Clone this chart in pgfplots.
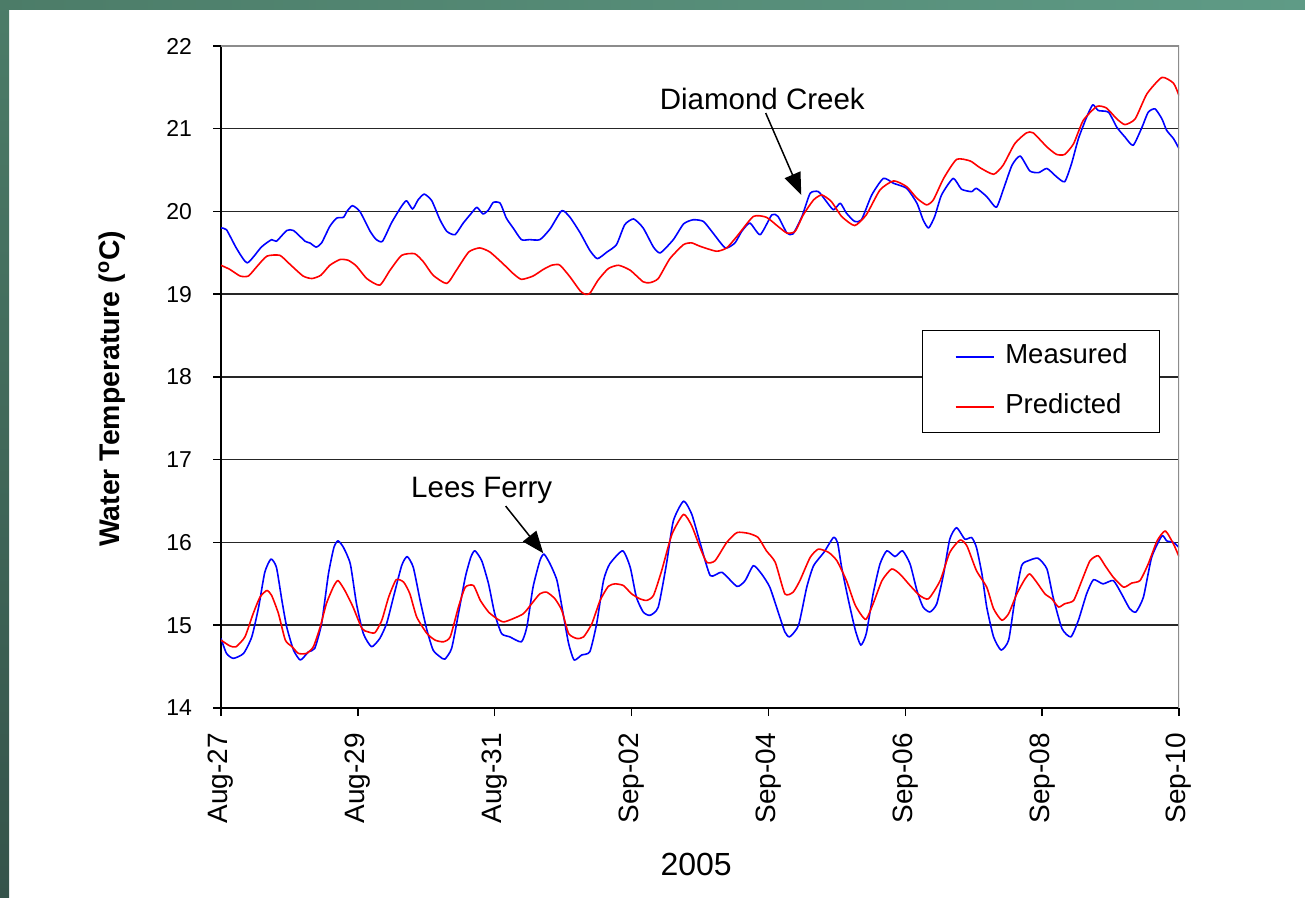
\documentclass[border=0pt]{standalone}
\usepackage{fontspec}
\setmainfont{Liberation Sans}
\usepackage{pgfplots}
\pgfplotsset{compat=1.18}
\usetikzlibrary{arrows.meta}

\definecolor{bandL}{HTML}{4C7C68}
\definecolor{bandR}{HTML}{5F9B86}
\definecolor{bandB}{HTML}{35534A}

% Days counted from Aug-27 00:00, temperatures in deg C
\pgfplotstableread{
d T
0 19.80
0.08 19.78
0.23 19.55
0.385 19.38
0.59 19.57
0.74 19.66
0.81 19.64
0.96 19.77
1.06 19.77
1.23 19.64
1.30 19.62
1.39 19.57
1.47 19.62
1.59 19.82
1.69 19.92
1.79 19.93
1.84 20.00
1.92 20.07
2.03 20.00
2.18 19.76
2.27 19.66
2.36 19.64
2.49 19.86
2.62 20.04
2.71 20.13
2.80 20.03
2.88 20.14
2.97 20.21
3.08 20.13
3.20 19.90
3.30 19.76
3.42 19.72
3.54 19.86
3.66 19.98
3.74 20.05
3.83 19.97
3.91 20.02
3.98 20.11
4.08 20.10
4.17 19.92
4.27 19.80
4.39 19.66
4.51 19.66
4.66 19.66
4.81 19.79
4.98 20.01
5.10 19.93
5.25 19.74
5.39 19.53
5.50 19.43
5.64 19.51
5.78 19.60
5.90 19.84
6.03 19.91
6.17 19.80
6.32 19.57
6.42 19.50
6.61 19.66
6.76 19.85
6.90 19.90
7.05 19.88
7.19 19.74
7.37 19.56
7.51 19.62
7.61 19.76
7.73 19.86
7.88 19.72
8.05 19.96
8.14 19.94
8.27 19.74
8.36 19.73
8.49 19.94
8.61 20.22
8.73 20.24
8.83 20.14
8.95 20.02
9.05 20.10
9.14 19.98
9.26 19.88
9.36 19.90
9.51 20.20
9.68 20.40
9.83 20.34
10.02 20.28
10.17 20.10
10.26 19.90
10.34 19.80
10.43 19.94
10.53 20.20
10.70 20.40
10.82 20.27
10.97 20.24
11.04 20.28
11.19 20.18
11.33 20.05
11.43 20.26
11.56 20.56
11.68 20.67
11.82 20.49
11.95 20.47
12.07 20.52
12.21 20.42
12.33 20.36
12.43 20.58
12.53 20.88
12.65 21.14
12.74 21.29
12.82 21.22
12.97 21.20
13.09 21.02
13.21 20.90
13.33 20.80
13.46 21.02
13.55 21.20
13.65 21.24
13.75 21.12
13.82 20.98
13.92 20.88
14.00 20.76
}\dcmeas

\pgfplotstableread{
d T
0 19.35
0.13 19.30
0.28 19.22
0.40 19.22
0.52 19.33
0.67 19.46
0.86 19.47
1.01 19.36
1.20 19.22
1.33 19.19
1.46 19.23
1.59 19.35
1.74 19.42
1.86 19.41
1.98 19.34
2.13 19.19
2.32 19.11
2.47 19.29
2.64 19.47
2.83 19.49
2.96 19.39
3.10 19.23
3.30 19.13
3.44 19.29
3.62 19.51
3.78 19.56
3.93 19.51
4.12 19.37
4.27 19.25
4.39 19.18
4.56 19.22
4.71 19.30
4.83 19.35
4.93 19.36
4.98 19.33
5.10 19.21
5.25 19.04
5.32 19.00
5.39 19.01
5.51 19.17
5.66 19.31
5.81 19.35
5.98 19.29
6.17 19.15
6.27 19.14
6.39 19.19
6.56 19.43
6.76 19.60
6.88 19.62
7.00 19.58
7.24 19.52
7.39 19.56
7.54 19.70
7.78 19.94
7.97 19.93
8.14 19.82
8.27 19.74
8.39 19.76
8.51 19.96
8.66 20.14
8.78 20.20
8.92 20.12
9.07 19.94
9.26 19.83
9.43 19.96
9.63 20.26
9.83 20.37
10.02 20.30
10.17 20.16
10.31 20.08
10.41 20.14
10.56 20.40
10.75 20.63
10.95 20.61
11.09 20.53
11.29 20.45
11.43 20.56
11.60 20.82
11.77 20.95
11.87 20.95
12.07 20.78
12.21 20.69
12.33 20.69
12.46 20.82
12.60 21.10
12.80 21.27
12.94 21.25
13.09 21.12
13.21 21.05
13.36 21.12
13.53 21.42
13.75 21.62
13.92 21.55
14.00 21.40
}\dcpred

\pgfplotstableread{
d T
0 14.84
0.08 14.66
0.18 14.60
0.33 14.66
0.45 14.86
0.55 15.22
0.64 15.64
0.73 15.80
0.81 15.70
0.89 15.30
0.96 14.98
1.06 14.70
1.16 14.58
1.28 14.68
1.37 14.72
1.47 15.02
1.57 15.62
1.65 15.94
1.71 16.02
1.79 15.94
1.89 15.74
1.98 15.26
2.08 14.90
2.20 14.74
2.32 14.84
2.42 15.02
2.52 15.34
2.64 15.72
2.72 15.83
2.81 15.70
2.91 15.30
3.01 14.94
3.10 14.70
3.20 14.62
3.27 14.59
3.37 14.72
3.47 15.14
3.57 15.58
3.65 15.82
3.71 15.90
3.81 15.78
3.91 15.50
4.00 15.14
4.10 14.90
4.22 14.86
4.39 14.80
4.47 14.98
4.56 15.46
4.66 15.78
4.72 15.86
4.81 15.74
4.91 15.54
5.00 15.14
5.08 14.78
5.16 14.58
5.27 14.64
5.39 14.68
5.49 15.02
5.59 15.54
5.68 15.74
5.87 15.90
5.98 15.70
6.07 15.34
6.17 15.16
6.27 15.12
6.39 15.22
6.51 15.74
6.61 16.26
6.76 16.50
6.88 16.34
7.00 16.00
7.15 15.60
7.32 15.64
7.54 15.47
7.66 15.54
7.78 15.72
7.90 15.62
8.02 15.46
8.15 15.14
8.24 14.92
8.31 14.86
8.44 15.00
8.56 15.46
8.66 15.72
8.81 15.88
8.95 16.06
9.01 16.00
9.07 15.70
9.17 15.30
9.27 14.94
9.35 14.76
9.43 14.90
9.53 15.38
9.63 15.74
9.73 15.90
9.85 15.83
9.96 15.90
10.07 15.74
10.17 15.42
10.26 15.22
10.36 15.16
10.46 15.26
10.56 15.62
10.65 16.04
10.75 16.18
10.87 16.04
10.97 16.06
11.04 15.94
11.12 15.62
11.19 15.22
11.29 14.86
11.40 14.70
11.51 14.82
11.60 15.30
11.70 15.72
11.80 15.78
11.94 15.81
12.07 15.68
12.16 15.34
12.29 14.96
12.42 14.86
12.53 15.06
12.65 15.38
12.75 15.55
12.89 15.50
13.04 15.54
13.16 15.38
13.28 15.20
13.37 15.16
13.48 15.34
13.60 15.82
13.75 16.08
13.82 16.02
13.92 16.00
14.00 15.94
}\lfmeas

\pgfplotstableread{
d T
0 14.82
0.13 14.75
0.22 14.74
0.35 14.86
0.47 15.14
0.57 15.34
0.67 15.42
0.74 15.36
0.84 15.14
0.94 14.82
1.04 14.74
1.13 14.66
1.25 14.66
1.35 14.74
1.45 14.98
1.54 15.26
1.64 15.46
1.71 15.54
1.81 15.42
1.93 15.22
2.06 14.96
2.15 14.92
2.25 14.91
2.35 15.06
2.45 15.34
2.56 15.55
2.67 15.52
2.76 15.38
2.86 15.10
3.01 14.90
3.13 14.82
3.25 14.80
3.35 14.86
3.47 15.22
3.57 15.46
3.69 15.48
3.79 15.30
3.91 15.16
4.03 15.08
4.13 15.04
4.27 15.08
4.42 15.14
4.54 15.26
4.66 15.38
4.76 15.40
4.88 15.32
4.98 15.18
5.08 14.90
5.20 14.84
5.30 14.86
5.42 15.02
5.54 15.30
5.66 15.47
5.76 15.50
5.88 15.48
6.00 15.38
6.12 15.32
6.22 15.30
6.32 15.36
6.44 15.66
6.59 16.10
6.76 16.34
6.88 16.20
7.00 15.94
7.10 15.76
7.22 15.78
7.39 16.00
7.54 16.12
7.71 16.11
7.85 16.06
7.97 15.90
8.10 15.76
8.24 15.38
8.36 15.40
8.46 15.54
8.61 15.82
8.73 15.92
8.88 15.88
9.00 15.78
9.14 15.54
9.27 15.24
9.42 15.07
9.53 15.26
9.66 15.54
9.80 15.68
9.92 15.62
10.07 15.48
10.21 15.36
10.34 15.32
10.51 15.54
10.65 15.88
10.80 16.03
10.90 15.96
11.04 15.66
11.19 15.46
11.29 15.20
11.41 15.06
11.51 15.14
11.63 15.38
11.75 15.56
11.82 15.62
11.92 15.52
12.04 15.38
12.14 15.32
12.24 15.22
12.33 15.26
12.46 15.30
12.58 15.54
12.70 15.78
12.82 15.84
12.92 15.72
13.04 15.58
13.19 15.46
13.31 15.51
13.43 15.54
13.55 15.74
13.68 16.02
13.80 16.14
13.92 15.98
14.00 15.83
}\lfpred

\begin{document}
\begin{tikzpicture}
% slide background with green frame
\fill[white] (0bp,0bp) rectangle (652.5bp,449bp);
\shade[left color=bandL, right color=bandR] (0bp,444bp) rectangle (652.5bp,449bp);
\shade[bottom color=bandB, top color=bandL] (0bp,0bp) rectangle (4.5bp,449bp);
\useasboundingbox (0bp,0bp) rectangle (652.5bp,449bp);

\begin{axis}[
  at={(110.5bp,95bp)}, anchor=south west,
  scale only axis, width=479bp, height=331bp,
  xmin=0, xmax=14, ymin=14, ymax=22,
  axis x line*=bottom, axis y line*=left,
  axis line style={-, black, line width=0.75bp},
  xtick={0,2,...,14},
  xticklabels={Aug-27,Aug-29,Aug-31,Sep-02,Sep-04,Sep-06,Sep-08,Sep-10},
  ytick={14,15,...,22},
  tick align=outside, major tick length=4bp,
  tick style={black, line width=0.75bp},
  /pgf/number format/assume math mode=true,
  yticklabel style={font=\fontsize{11.5bp}{13bp}\selectfont, xshift=-7bp},
  xticklabel style={font=\fontsize{14bp}{16bp}\selectfont, rotate=90, anchor=east, xshift=-5bp},
  ymajorgrids, major grid style={black!85, line width=0.75bp},
  ylabel={\textbf{Water Temperature (\textsuperscript{o}C)}},
  ylabel style={at={(axis description cs:-0.1138,0.482)}, anchor=center,
    font=\fontsize{14.2bp}{17bp}\selectfont},
  xlabel={2005},
  xlabel style={at={(axis description cs:0.496,-0.236)}, anchor=center,
    font=\fontsize{16bp}{19bp}\selectfont},
  legend style={at={(axis description cs:0.7317,0.571)}, anchor=north west,
    draw=black, line width=0.75bp, fill=white,
    font=\fontsize{13.75bp}{16bp}\selectfont,
    inner xsep=16bp, inner ysep=6.5bp, row sep=12bp,
    nodes={inner sep=0pt, text height=10bp, text depth=3bp},
    /tikz/every odd column/.append style={column sep=5.5bp}},
  legend cell align=left,
  legend image code/.code={\draw[#1] (0bp,0bp) -- (19bp,0bp);},
  every axis plot/.append style={line width=0.8bp, line join=round},
]
\addplot[blue, smooth, tension=0.35] table[x=d, y=T] {\dcmeas};
\addlegendentry{Measured}
\addplot[red, smooth, tension=0.35] table[x=d, y=T] {\dcpred};
\addlegendentry{Predicted}
\addplot[blue, smooth, tension=0.35, forget plot] table[x=d, y=T] {\lfmeas};
\addplot[red, smooth, tension=0.35, forget plot] table[x=d, y=T] {\lfpred};

% plot area frame on the top and right
\draw[black!45, line width=0.75bp] (rel axis cs:0,1) -- (rel axis cs:1,1) -- (rel axis cs:1,0);

% site annotations
\node[font=\fontsize{14.75bp}{17bp}\selectfont] at (axis cs:7.91,21.36) {Diamond Creek};
\draw[-{Triangle[length=11bp,width=8.5bp]}, line width=0.75bp]
  (axis cs:7.96,21.19) -- (axis cs:8.48,20.2);
\node[font=\fontsize{14.75bp}{17bp}\selectfont] at (axis cs:3.81,16.63) {Lees Ferry};
\draw[-{Triangle[length=11bp,width=8.5bp]}, line width=0.75bp]
  (axis cs:4.16,16.44) -- (axis cs:4.71,15.87);
\end{axis}
\end{tikzpicture}
\end{document}
